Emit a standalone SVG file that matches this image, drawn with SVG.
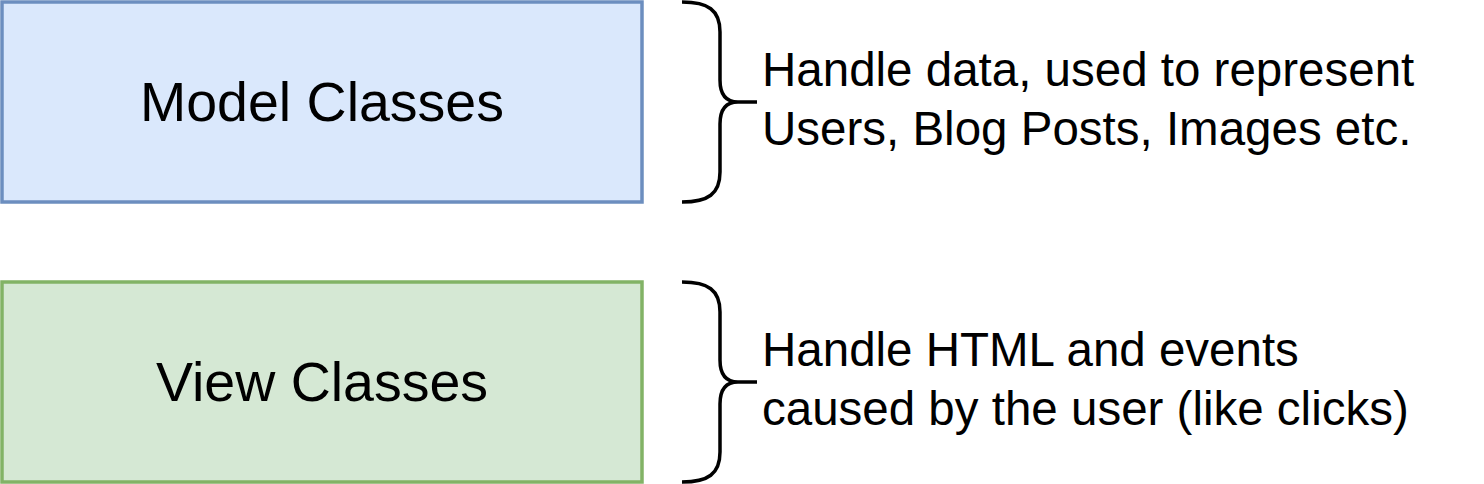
<svg xmlns="http://www.w3.org/2000/svg" width="1484" height="484" viewBox="0 0 1484 484">
<style>
.box{stroke-width:3.5}
.blue{fill:#dae8fc;stroke:#6c8ebf}
.green{fill:#d5e8d4;stroke:#82b366}
.brace{fill:none;stroke:#000;stroke-width:3.5}
.title{font-family:"Liberation Sans",Arial,sans-serif;font-size:55.5px;fill:#000;text-anchor:middle}
.desc{font-family:"Liberation Sans",Arial,sans-serif;font-size:47.5px;fill:#000}
</style>
<rect width="1484" height="484" fill="#fff"/>
<g id="model">
<rect class="box blue" x="2" y="2" width="640" height="200"/>
<text class="title" x="322" y="120.5">Model Classes</text>
</g>
<g id="view">
<rect class="box green" x="2" y="282" width="640" height="200"/>
<text class="title" x="322" y="400.5">View Classes</text>
</g>
<g id="connectors">
<path id="brace1" class="brace" d="M682,2 C708,2 720,10 720,32 L720,80 C720,95 726,102 738,102 L757,102 M738,102 C726,102 720,109 720,124 L720,172 C720,194 708,202 682,202"/>
<path id="brace2" class="brace" d="M682,282 C708,282 720,290 720,312 L720,360 C720,375 726,382 738,382 L757,382 M738,382 C726,382 720,389 720,404 L720,452 C720,474 708,482 682,482"/>
</g>
<g id="model-desc">
<text class="desc" x="762" y="86">Handle data, used to represent</text>
<text class="desc" x="762" y="145">Users, Blog Posts, Images etc.</text>
</g>
<g id="view-desc">
<text class="desc" x="762" y="366">Handle HTML and events</text>
<text class="desc" x="762" y="425">caused by the user (like clicks)</text>
</g>
</svg>
